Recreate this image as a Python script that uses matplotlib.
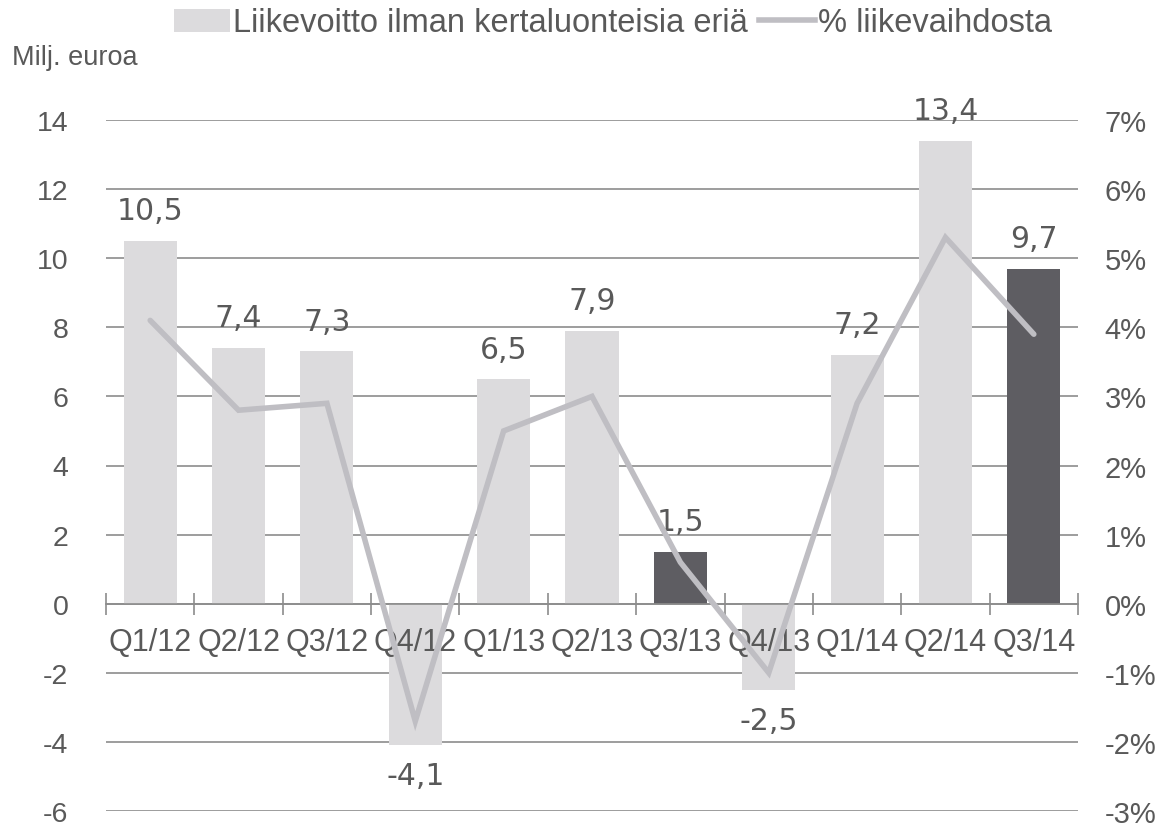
import numpy as np
import matplotlib.pyplot as plt
from matplotlib.patches import Patch
from matplotlib.lines import Line2D

# Data
quarters = ['Q1/12', 'Q2/12', 'Q3/12', 'Q4/12', 'Q1/13', 'Q2/13',
            'Q3/13', 'Q4/13', 'Q1/14', 'Q2/14', 'Q3/14']
ebit = [10.5, 7.4, 7.3, -4.1, 6.5, 7.9, 1.5, -2.5, 7.2, 13.4, 9.7]
margin_pct = [4.1, 2.8, 2.9, -1.7, 2.5, 3.0, 0.6, -1.0, 2.9, 5.3, 3.9]
highlight = ['Q3/13', 'Q3/14']

light = '#dcdbdd'
dark = '#5e5d62'
line_col = '#bfbec3'
text_col = '#595959'
grid_col = '#8c8c8c'

fig = plt.figure(figsize=(11.63, 8.28), dpi=100)
ax = fig.add_axes([106 / 1163, 1 - 812 / 828, 972 / 1163, 691 / 828])
ax2 = ax.twinx()

x = np.arange(len(quarters))
colors = [dark if q in highlight else light for q in quarters]
ax.bar(x, ebit, width=0.6, color=colors, zorder=2)

# data labels
for xi, v in zip(x, ebit):
    lbl = f'{v:.1f}'.replace('.', ',')
    if v >= 0:
        ax.text(xi, v + 0.45, lbl, ha='center', va='bottom', fontsize=21.5,
                color=text_col, family='DejaVu Sans', zorder=1)
    else:
        ax.text(xi, v - 0.45, lbl, ha='center', va='top', fontsize=21.5,
                color=text_col, family='DejaVu Sans', zorder=1)

ax.set_xlim(-0.5, len(quarters) - 0.5)
ax.set_ylim(-6, 14)
ax.set_yticks(range(-6, 15, 2))
ax.set_yticklabels([str(t) for t in range(-6, 15, 2)], fontsize=20.5,
                   color=text_col, family='Liberation Sans')
ax.yaxis.grid(True, color=grid_col, linewidth=1.2, zorder=0)
ax.set_axisbelow(True)
ax.xaxis.set_zorder(2.5)  # category labels over the bars
ax.tick_params(axis='y', length=0, pad=27)

# category axis at zero
for s in ['top', 'right', 'left']:
    ax.spines[s].set_visible(False)
ax.spines['bottom'].set_position(('data', 0))
ax.spines['bottom'].set_color(grid_col)
ax.spines['bottom'].set_linewidth(1.2)
ax.set_xticks(x)
ax.set_xticklabels(quarters, fontsize=22, color=text_col, family='Liberation Sans')
ax.set_xticks(np.arange(-0.5, len(quarters), 1), minor=True)
ax.tick_params(axis='x', which='major', length=0, pad=17)
ax.tick_params(axis='x', which='minor', length=16, direction='inout',
               color=grid_col, width=1.2)

# margin line on right axis
ax2.plot(x, margin_pct, color=line_col, linewidth=4, solid_capstyle='round',
         solid_joinstyle='miter', zorder=3)
ax2.set_ylim(-3, 7)
ax2.set_yticks(range(-3, 8))
ax2.set_yticklabels([f'{t}%' for t in range(-3, 8)], fontsize=21,
                    color=text_col, family='Liberation Sans')
ax2.tick_params(axis='y', length=0, pad=19)
for s in ax2.spines.values():
    s.set_visible(False)

fig.text(12 / 1163, 1 - 58 / 828, 'Milj. euroa', fontsize=19.5, color=text_col,
         family='Liberation Sans', va='center', ha='left')

handles = [Patch(facecolor=light, edgecolor='none'),
           Line2D([0], [0], color=line_col, linewidth=4)]
fig.legend(handles, ['Liikevoitto ilman kertaluonteisia eriä', '% liikevaihdosta'],
           loc='center', bbox_to_anchor=(613 / 1163, 1 - 24 / 828), ncol=2,
           frameon=False, handlelength=1.7, handletextpad=0.1,
           columnspacing=0.35, prop={'family': 'Liberation Sans', 'size': 23.5},
           labelcolor=text_col)

fig.savefig('out.png', dpi=100)
